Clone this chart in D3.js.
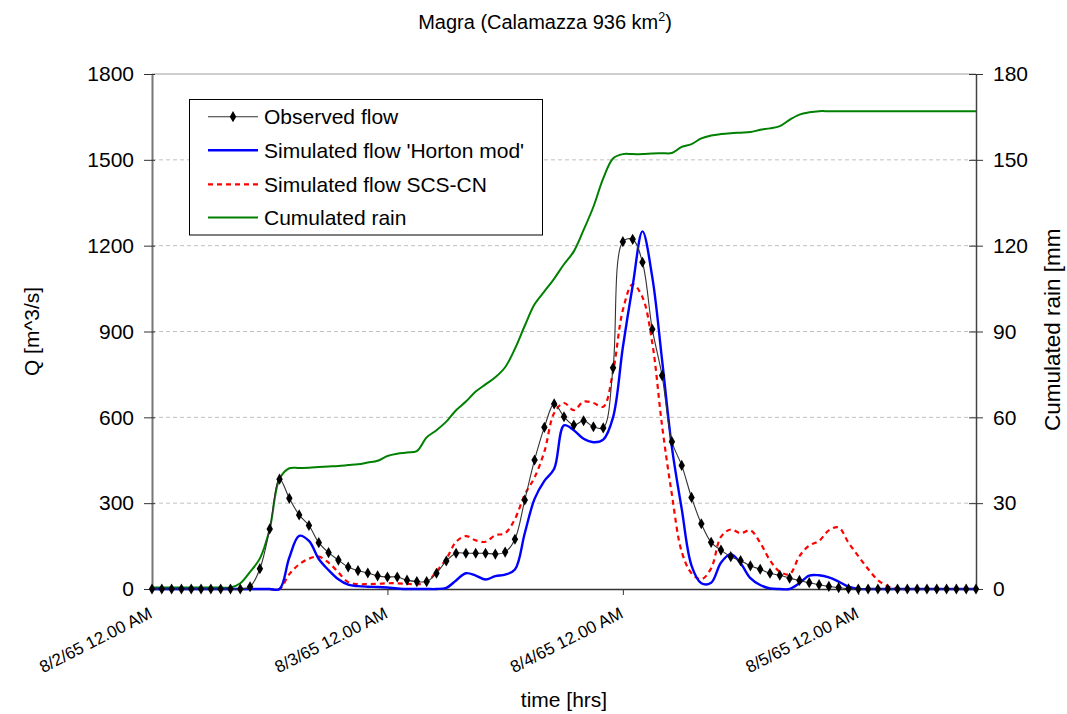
<!DOCTYPE html>
<html>
<head>
<meta charset="utf-8">
<script src="https://cdn.jsdelivr.net/npm/d3@7"></script>
<style>
  html, body { margin: 0; padding: 0; background: #fff; }
  svg { display: block; font-family: "Liberation Sans", Arial, sans-serif; }
</style>
</head>
<body>
<svg id="chart" width="1067" height="714"></svg>
<script>
// Hours since 8/2/65 00:00, one reading per hour
const hours = d3.range(0, 85);

// Observed discharge [m^3/s]
const observedFlow = [
  0, 0, 0, 0, 0, 0, 0, 0, 0, 0,
  8, 71, 210, 384, 317, 259, 222, 162, 127, 101,
  77, 64, 56, 46, 42, 42, 31, 26, 26, 55,
  98, 125, 125, 125, 125, 122, 129, 174, 311, 451,
  565, 647, 602, 573, 588, 567, 563, 773, 1214, 1222,
  1142, 908, 746, 515, 432, 320, 228, 163, 136, 113,
  99, 81, 69, 55, 48, 38, 30, 22, 15, 9,
  5, 1, 0, 0, 0, 0, 0, 0, 0, 0,
  0, 0, 0, 0, 0
];

// Simulated discharge, modified Horton infiltration [m^3/s]
const hortonFlow = [
  0, 0, 0, 0, 0, 0, 0, 0, 0, 0,
  0, 0, 0, 0, 110, 186, 168, 105, 66, 34,
  15, 10, 8, 7, 5, 2, 0, 0, 0, 0,
  4, 30, 55, 47, 33, 45, 50, 68, 195, 315,
  378, 420, 572, 555, 525, 513, 522, 600, 845, 1060,
  1250, 1090, 800, 495, 280, 82, 20, 22, 92, 122,
  90, 38, 14, 2, 0, 0, 20, 47, 48, 41,
  26, 8, 0, 0, 0, 0, 0, 0, 0, 0,
  0, 0, 0, 0, 0
];

// Simulated discharge, SCS-CN method [m^3/s]
const scsFlow = [
  0, 0, 0, 0, 0, 0, 0, 0, 0, 0,
  0, 0, 0, 0, 52, 86, 106, 113, 92, 58,
  24, 17, 17, 18, 20, 20, 18, 17, 22, 62,
  105, 165, 185, 170, 165, 188, 195, 245, 330, 390,
  480, 615, 650, 625, 655, 650, 637, 760, 975, 1065,
  1020, 860, 570, 330, 130, 55, 34, 72, 182, 208,
  195, 205, 162, 100, 60, 52, 115, 152, 168, 205,
  215, 162, 115, 70, 31, 10, 0, 0, 0, 0,
  0, 0, 0, 0, 0
];

// Cumulated rainfall [mm]
const cumulatedRain = [
  0.5, 0.5, 0.5, 0.5, 0.5, 0.5, 0.5, 0.5, 0.5, 2,
  6, 10.7, 21, 38.5, 42.2, 42.3, 42.4, 42.6, 42.8, 43,
  43.3, 43.6, 44.2, 44.8, 46.5, 47.3, 47.7, 48.2, 53, 55.5,
  58.5, 62.5, 65.5, 69, 71.5, 74, 77.5, 84, 92, 99.5,
  104, 108.5, 113.5, 118, 125.5, 133.6, 143.5, 150.5, 152, 152,
  152, 152.2, 152.3, 152.4, 154.5, 155.5, 157.5, 158.5, 159, 159.3,
  159.5, 159.7, 160.5, 161, 161.8, 164, 165.8, 166.6, 167, 167,
  167, 167, 167, 167, 167, 167, 167, 167, 167, 167,
  167, 167, 167, 167, 167
];

// Axis ticks
const qTicks = [0, 300, 600, 900, 1200, 1500, 1800];
const rainTicks = [0, 30, 60, 90, 120, 150, 180];
const timeTicks = [0, 24, 48, 72];
const timeTickLabels = ["8/2/65 12.00 AM", "8/3/65 12.00 AM", "8/4/65 12.00 AM", "8/5/65 12.00 AM"];

const seriesNames = ["Observed flow", "Simulated flow 'Horton mod'", "Simulated flow SCS-CN", "Cumulated rain"];

// ---- layout ----
const svg = d3.select("#chart");
const plotLeft = 152, plotRight = 976, plotTop = 74, plotBottom = 589;

const x = d3.scaleLinear().domain([0, 84]).range([plotLeft, plotRight]);
const yQ = d3.scaleLinear().domain([0, 1800]).range([plotBottom, plotTop]);
const yR = d3.scaleLinear().domain([0, 180]).range([plotBottom, plotTop]);

const FS = 21;
const plain = d3.format("d");

// Title
const title = svg.append("text")
  .attr("x", 545).attr("y", 29)
  .attr("text-anchor", "middle")
  .attr("font-size", 20)
  .attr("fill", "#000");
title.append("tspan").text("Magra (Calamazza 936 km");
title.append("tspan").attr("font-size", 12.5).attr("dy", -8).text("2");
title.append("tspan").attr("dy", 8).text(")");

// Gridlines
svg.append("g")
  .selectAll("line")
  .data(qTicks.filter(d => d > 0 && d < 1800))
  .join("line")
  .attr("x1", plotLeft).attr("x2", plotRight)
  .attr("y1", d => yQ(d)).attr("y2", d => yQ(d))
  .attr("stroke", "#c0c0c0")
  .attr("stroke-width", 1)
  .attr("stroke-dasharray", "4,3");

// Top frame line
svg.append("line")
  .attr("x1", plotLeft).attr("x2", plotRight)
  .attr("y1", yQ(1800)).attr("y2", yQ(1800))
  .attr("stroke", "#a0a0a0").attr("stroke-width", 1.2);

// Left axis
const leftAxis = svg.append("g")
  .attr("transform", `translate(${plotLeft},0)`)
  .call(d3.axisLeft(yQ).tickValues(qTicks).tickFormat(plain).tickSize(8).tickSizeOuter(0).tickPadding(10));
leftAxis.selectAll(".tick line").attr("x2", -8).attr("x1", 3).attr("stroke", "#333");
leftAxis.select(".domain").attr("stroke", "#777").attr("stroke-width", 2);
leftAxis.selectAll("text").attr("font-size", FS).attr("font-family", "Liberation Sans, Arial, sans-serif").attr("fill", "#000");

// Right axis
const rightAxis = svg.append("g")
  .attr("transform", `translate(${plotRight},0)`)
  .call(d3.axisRight(yR).tickValues(rainTicks).tickFormat(plain).tickSize(7).tickSizeOuter(0).tickPadding(10));
rightAxis.selectAll(".tick line").attr("x1", -7).attr("x2", 7).attr("stroke", "#333");
rightAxis.select(".domain").attr("stroke", "#444").attr("stroke-width", 1.5);
rightAxis.selectAll("text").attr("font-size", FS).attr("font-family", "Liberation Sans, Arial, sans-serif").attr("fill", "#000");

// Bottom axis
const bottomAxis = svg.append("g")
  .attr("transform", `translate(0,${plotBottom})`)
  .call(d3.axisBottom(x).tickValues(timeTicks).tickSize(6).tickSizeOuter(0).tickFormat((d, i) => timeTickLabels[i]));
bottomAxis.select(".domain").attr("stroke", "#333").attr("stroke-width", 1.5);
bottomAxis.selectAll(".tick line").attr("stroke", "#333");
bottomAxis.selectAll(".tick").filter(d => d === 0).select("line").remove();
bottomAxis.selectAll("text")
  .attr("font-size", 17)
  .attr("font-family", "Liberation Sans, Arial, sans-serif")
  .attr("fill", "#000")
  .attr("text-anchor", "end")
  .attr("dy", 0)
  .attr("y", 0)
  .attr("transform", "translate(1,28) rotate(-27)");

// Axis titles
svg.append("text")
  .attr("transform", `translate(39,${(plotTop + plotBottom) / 2}) rotate(-90)`)
  .attr("text-anchor", "middle")
  .attr("font-size", FS)
  .text("Q [m^3/s]");

// Right axis title, its closing bracket cut off at the top
svg.append("defs").append("clipPath").attr("id", "rtclip")
  .append("rect").attr("x", 1000).attr("y", 230).attr("width", 67).attr("height", 300);
svg.append("g")
  .attr("clip-path", "url(#rtclip)")
  .append("text")
  .attr("transform", `translate(1060,431) rotate(-90)`)
  .attr("text-anchor", "start")
  .attr("font-size", 22.5)
  .text("Cumulated rain [mm]");

svg.append("text")
  .attr("x", (plotLeft + plotRight) / 2).attr("y", 707)
  .attr("text-anchor", "middle")
  .attr("font-size", FS)
  .text("time [hrs]");

// ---- series ----
const curve = d3.curveCatmullRom.alpha(0.5);
const lineQ = vals => d3.line().curve(curve).x((d, i) => x(hours[i])).y(d => yQ(d))(vals);
const lineR = vals => d3.line().curve(curve).x((d, i) => x(hours[i])).y(d => yR(d))(vals);

const plot = svg.append("g");

plot.append("path")
  .attr("d", lineR(cumulatedRain))
  .attr("fill", "none").attr("stroke", "#008000").attr("stroke-width", 2);

plot.append("path")
  .attr("d", lineQ(scsFlow))
  .attr("fill", "none").attr("stroke", "#ff0000").attr("stroke-width", 2.2)
  .attr("stroke-dasharray", "5,4");

plot.append("path")
  .attr("d", lineQ(hortonFlow))
  .attr("fill", "none").attr("stroke", "#0000ff").attr("stroke-width", 2.4);

plot.append("path")
  .attr("d", lineQ(observedFlow))
  .attr("fill", "none").attr("stroke", "#333").attr("stroke-width", 1.1);

const diamond = d3.symbol().type(d3.symbolDiamond).size(36);
plot.append("g")
  .selectAll("path")
  .data(observedFlow)
  .join("path")
  .attr("transform", (d, i) => `translate(${x(hours[i])},${yQ(d)})`)
  .attr("d", diamond)
  .attr("fill", "#000");

// ---- legend ----
const legend = svg.append("g");
legend.append("rect")
  .attr("x", 189.5).attr("y", 99.5).attr("width", 353).attr("height", 135.5)
  .attr("fill", "#fff").attr("stroke", "#000").attr("stroke-width", 1);

const legendStyles = [
  { stroke: "#333", width: 1.1, dash: null, marker: true },
  { stroke: "#0000ff", width: 2.4, dash: null, marker: false },
  { stroke: "#ff0000", width: 2.2, dash: "5,4", marker: false },
  { stroke: "#008000", width: 2, dash: null, marker: false }
];
const rowY = [116.7, 150.3, 184.3, 217.5];

const rows = legend.selectAll("g.row")
  .data(seriesNames)
  .join("g")
  .attr("class", "row")
  .attr("transform", (d, i) => `translate(0,${rowY[i]})`);

rows.append("line")
  .attr("x1", 208).attr("x2", 258).attr("y1", 0).attr("y2", 0)
  .attr("stroke", (d, i) => legendStyles[i].stroke)
  .attr("stroke-width", (d, i) => legendStyles[i].width)
  .attr("stroke-dasharray", (d, i) => legendStyles[i].dash);

rows.filter((d, i) => legendStyles[i].marker)
  .append("path")
  .attr("transform", "translate(233,0)")
  .attr("d", diamond)
  .attr("fill", "#000");

rows.append("text")
  .attr("x", 264).attr("y", 0).attr("dy", "0.36em")
  .attr("font-size", FS)
  .text(d => d);
</script>
</body>
</html>
